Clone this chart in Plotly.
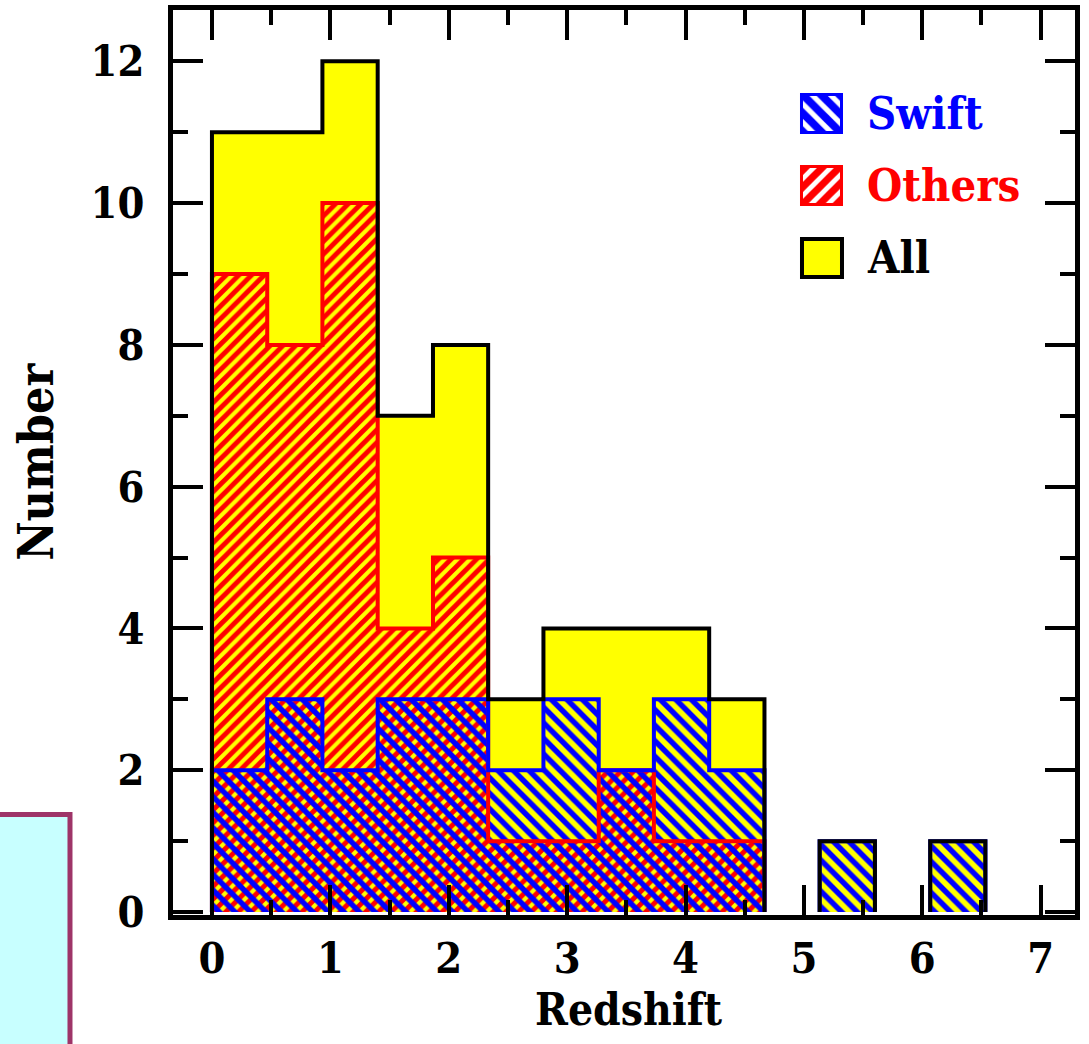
import plotly.graph_objects as go

# Redshift histogram: 15 equal bins from z = 0 to 7
bin_edges = [0.0, 0.467, 0.933, 1.4, 1.867, 2.333, 2.8, 3.267, 3.733,
             4.2, 4.667, 5.133, 5.6, 6.067, 6.533, 7.0]
swift_counts = [2, 3, 2, 3, 3, 2, 3, 2, 3, 2, 0, 1, 0, 1, 0]
others_counts = [9, 8, 10, 4, 5, 1, 1, 2, 1, 1, 0, 0, 0, 0, 0]
all_counts = [11, 11, 12, 7, 8, 3, 4, 4, 4, 3, 0, 1, 0, 1, 0]

legend_names = ["Swift", "Others", "All"]

x_ticks = [0, 1, 2, 3, 4, 5, 6, 7]
y_ticks = [0, 2, 4, 6, 8, 10, 12]

BLUE = "#0000FF"
RED = "#FF0000"
YELLOW = "#FFFF00"
FONT = "DejaVu Serif Condensed, DejaVu Serif, serif"

centers = [(a + b) / 2 for a, b in zip(bin_edges[:-1], bin_edges[1:])]
widths = [b - a for a, b in zip(bin_edges[:-1], bin_edges[1:])]


def step_outline(counts):
    """Histogram outline as a stepped path, broken where a bin is empty."""
    xs, ys = [], []
    open_run = False
    for i, c in enumerate(counts):
        left, right = bin_edges[i], bin_edges[i + 1]
        if c > 0:
            if not open_run:
                xs.append(left)
                ys.append(0)
                open_run = True
            xs += [left, right]
            ys += [c, c]
        elif open_run:
            xs += [left, None]
            ys += [0, None]
            open_run = False
    if open_run:
        xs.append(bin_edges[-1])
        ys.append(0)
    return xs, ys


fig = go.Figure()

# filled "All" histogram
fig.add_trace(go.Bar(x=centers, y=all_counts, width=widths,
                     marker=dict(color=YELLOW, line=dict(width=0)),
                     showlegend=False, hoverinfo="skip"))
# hatched "Others" and "Swift" histograms over it
fig.add_trace(go.Bar(x=centers, y=others_counts, width=widths,
                     marker=dict(color=RED, line=dict(width=0),
                                 pattern=dict(shape="/", fgcolor=RED, fgopacity=1,
                                              bgcolor="rgba(0,0,0,0)",
                                              size=9, solidity=0.55)),
                     showlegend=False, hoverinfo="skip"))
fig.add_trace(go.Bar(x=centers, y=swift_counts, width=widths,
                     marker=dict(color=BLUE, line=dict(width=0),
                                 pattern=dict(shape="\\", fgcolor=BLUE, fgopacity=1,
                                              bgcolor="rgba(0,0,0,0)",
                                              size=11, solidity=0.5)),
                     showlegend=False, hoverinfo="skip"))

# stepped outlines
for counts, color in [(others_counts, RED), (swift_counts, BLUE), (all_counts, "black")]:
    xs, ys = step_outline(counts)
    fig.add_trace(go.Scatter(x=xs, y=ys, mode="lines",
                             line=dict(color=color, width=4),
                             showlegend=False, hoverinfo="skip"))

# legend swatches on a small helper axis (y measured in pixels from the top)
swatch_tops = [95, 167, 239]
swatch_h = 38
swatch_styles = [
    dict(color=BLUE, line=dict(color=BLUE, width=3),
         pattern=dict(shape="\\", fgcolor=BLUE, fgopacity=1, bgcolor="white",
                      size=13, solidity=0.6)),
    dict(color=RED, line=dict(color=RED, width=3),
         pattern=dict(shape="/", fgcolor=RED, fgopacity=1, bgcolor="white",
                      size=12, solidity=0.6)),
    dict(color=YELLOW, line=dict(color="black", width=4)),
]
for top, style in zip(swatch_tops, swatch_styles):
    fig.add_trace(go.Bar(x=[0.5], y=[swatch_h], base=[top], width=[1],
                         marker=style, xaxis="x2", yaxis="y2",
                         showlegend=False, hoverinfo="skip"))

legend_colors = [BLUE, RED, "black"]
for name, top, col in zip(legend_names, swatch_tops, legend_colors):
    fig.add_annotation(x=0.7672, xref="paper", y=top + swatch_h / 2, yref="y2",
                       text=name, showarrow=False, xanchor="left", yanchor="middle",
                       font=dict(family=FONT, size=45, color=col, weight="bold"))

# axis titles
fig.add_annotation(x=0.5055, xref="paper", y=-0.1045, yref="paper", text="Redshift",
                   showarrow=False, xanchor="center", yanchor="middle",
                   font=dict(family=FONT, size=44, color="black", weight="bold"))
fig.add_annotation(x=-0.152, xref="paper", y=0.5006, yref="paper", text="Number",
                   textangle=-90, showarrow=False, xanchor="center", yanchor="middle",
                   font=dict(family=FONT, size=48, color="black", weight="bold"))

# neighbouring panel fragment at lower left
fig.add_shape(type="rect", xref="paper", yref="paper",
              x0=-0.203, x1=-0.1142, y0=-0.2, y1=0.111,
              fillcolor="#C8FFFF", line=dict(color="#9E3468", width=5), layer="above")

axis_common = dict(showline=True, linewidth=5, linecolor="black", mirror="ticks",
                   ticks="inside", ticklen=30, tickwidth=4, tickcolor="black",
                   showgrid=False, zeroline=False,
                   tickfont=dict(family=FONT, size=43, color="black", weight="bold"))

fig.update_layout(
    width=1089, height=1044,
    margin=dict(l=173, r=14, t=10, b=129, autoexpand=False),
    paper_bgcolor="white", plot_bgcolor="rgba(0,0,0,0)",
    barmode="overlay", bargap=0, showlegend=False,
    xaxis=dict(range=[-0.329, 7.29], tickvals=x_ticks, ticklabelstandoff=1,
               minor=dict(dtick=0.5, ticks="inside", ticklen=15, tickwidth=4,
                          tickcolor="black", showgrid=False),
               **axis_common),
    yaxis=dict(range=[-0.042, 12.724], tickvals=y_ticks, ticklabelstandoff=15,
               minor=dict(dtick=1, ticks="inside", ticklen=15, tickwidth=4,
                          tickcolor="black", showgrid=False),
               **axis_common),
    xaxis2=dict(domain=[0.6929, 0.7461], range=[-0.1, 1.1], anchor="y2",
                visible=False, fixedrange=True),
    yaxis2=dict(domain=[0.7017, 0.9116], range=[280, 90], anchor="x2",
                visible=False, fixedrange=True),
)

fig.write_html("out.html")
